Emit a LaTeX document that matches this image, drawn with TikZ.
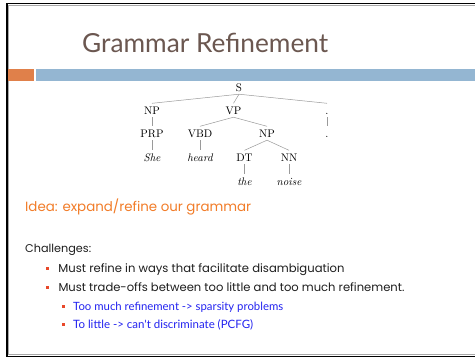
\documentclass[tikz,border=0pt]{standalone}
\usepackage{fontspec}
\usepackage{graphicx}
\setmainfont{Poppins}
\newfontfamily\titlefont{Lato}
\newfontfamily\subfont{Lato}
\newfontfamily\treefont{Latin Modern Roman}
\definecolor{titlecol}{HTML}{6B5750}
\definecolor{barorange}{HTML}{E0804A}
\definecolor{barblue}{HTML}{94B6D2}
\definecolor{ideaorange}{HTML}{F27C28}
\definecolor{subblue}{HTML}{2424F0}
\definecolor{bulletred}{HTML}{E8482A}
\definecolor{bodytext}{HTML}{1E1E1E}
\definecolor{edgegray}{HTML}{9A9A9A}
\definecolor{framegray}{HTML}{A8A8A8}
\tikzset{
  tn/.style={anchor=base, inner sep=0pt, inner ysep=3pt, text height=7.5pt, text depth=0pt, font=\treefont\fontsize{11}{11}\selectfont},
  tedge/.style={draw=edgegray, line width=0.5pt},
  bul/.style={fill=bulletred, draw=none, minimum size=3pt, inner sep=0pt},
  txt/.style={anchor=base west, inner sep=0pt},
}
\begin{document}
\begin{tikzpicture}[x=1pt,y=-1pt]
\useasboundingbox (0,0) rectangle (475,359);
\fill[white] (0,0) rectangle (475,359);
% frame
\draw[framegray, line width=0.8pt] (480,5.2) -- (8.7,5.2) -- (8.7,354.8) -- (480,354.8);
\draw[black, line width=1.8pt] (480,3.5) -- (7,3.5) -- (7,356.5) -- (480,356.5);
% bars
\fill[barorange] (8,69) rectangle (34,80.5);
\fill[barblue] (36,69) rectangle (475,80.5);
% title
\node[txt] (title) at (82,52.5) {\resizebox{246pt}{!}{\titlefont\color{titlecol}Grammar Refinement}};
% tree
\node[tn] (S) at (239,91) {S};
\node[tn] (NP) at (152,114) {NP};
\node[tn] (VP) at (233.5,114) {VP};
\node[tn] (P1) at (327,114) {.};
\node[tn] (PRP) at (152,137) {PRP};
\node[tn] (VBD) at (200,137) {VBD};
\node[tn] (NP2) at (267,137) {NP};
\node[tn] (P2) at (327,137) {.};
\node[tn] (She) at (152,161) {\itshape She};
\node[tn] (heard) at (200,161) {\itshape heard};
\node[tn] (DT) at (244.5,161) {DT};
\node[tn] (NN) at (289,161) {NN};
\node[tn] (the) at (244.5,185) {\itshape the};
\node[tn] (noise) at (289,185) {\itshape noise};
\foreach \a/\b in {S/NP,S/VP,S/P1,NP/PRP,P1/P2,VP/VBD,VP/NP2,PRP/She,VBD/heard,NP2/DT,NP2/NN,DT/the,NN/noise}
  \draw[tedge] (\a.south) -- (\b.north);
% idea
\node[txt] (idea) at (25,211.5) {\resizebox{226pt}{!}{\color{ideaorange}Idea: expand/refine our grammar}};
\node[txt] (chal) at (25,252) {\resizebox{66pt}{!}{\color{bodytext}Challenges:}};
\node[bul] (b1) at (47,268) {};
\node[txt] (t1) at (58.3,272) {\resizebox{286pt}{!}{\color{bodytext}Must refine in ways that facilitate disambiguation}};
\node[bul] (b2) at (47,287) {};
\node[txt] (t2) at (58.3,291) {\resizebox{346pt}{!}{\color{bodytext}Must trade-offs between too little and too much refinement.}};
\node[bul] (b3) at (63,306) {};
\node[txt] (t3) at (73,310) {\resizebox{210pt}{!}{\subfont\color{subblue}Too much refinement -> sparsity problems}};
\node[bul] (b4) at (63,324) {};
\node[txt] (t4) at (73,328) {\resizebox{180pt}{!}{\subfont\color{subblue}To little -> can't discriminate (PCFG)}};
\end{tikzpicture}
\end{document}
